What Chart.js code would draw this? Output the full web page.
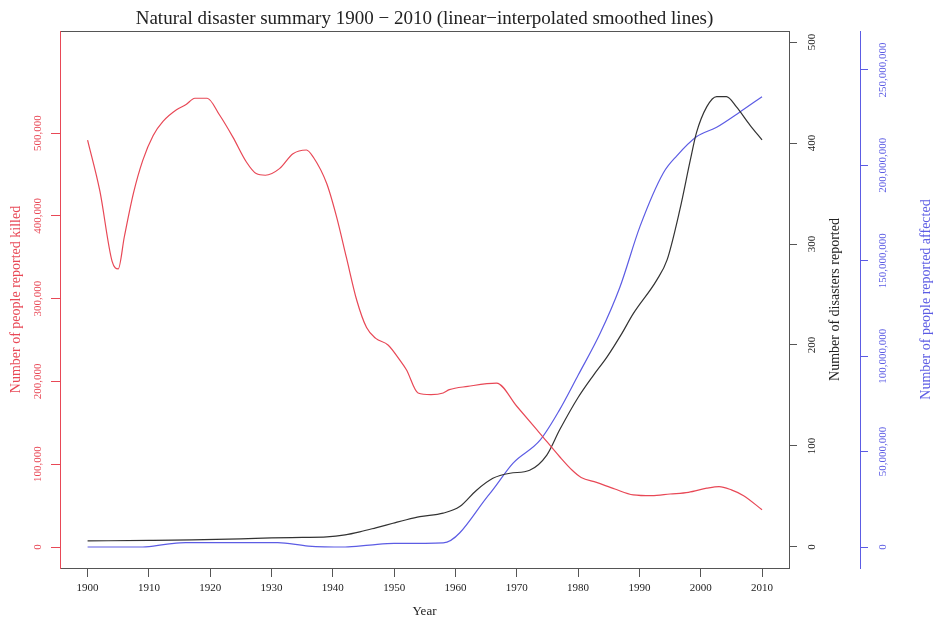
<!DOCTYPE html>
<html>
<head>
<meta charset="utf-8">
<script src="https://cdn.jsdelivr.net/npm/chart.js@4"></script>
<style>
  html, body { margin: 0; background: #fff; }
</style>
</head>
<body>
<canvas id="chart" width="936" height="621"></canvas>
<script>
// values
const killedYears = [1900, 1902, 1904, 1905, 1906, 1907.5, 1909, 1910.7, 1912.3, 1914.5, 1916, 1917.5, 1919.5,
  1921.5, 1923.7, 1925.9, 1927.5, 1929, 1931.3, 1933.5, 1935.7, 1936.8, 1939, 1940.6, 1942.2, 1943.9,
  1945.5, 1947, 1949, 1950.9, 1952, 1953.9, 1956, 1958, 1959, 1962, 1966.7, 1970, 1973.8, 1977,
  1979, 1980.5, 1983, 1986, 1989, 1992, 1995, 1998, 2001, 2003, 2005, 2007, 2010];
const killedValues = [491500, 430000, 345000, 336000, 375000, 428000, 467000, 497000, 514000, 528000, 534000, 542000, 542000,
  522000, 495000, 465000, 451000, 449000, 457000, 475000, 479500, 471000, 439000, 399000, 350000, 298000,
  265000, 252000, 244000, 226000, 214000, 186000, 184000, 186000, 190000, 194000, 198000, 170000, 137000, 109000,
  93000, 84000, 78000, 70000, 63000, 62000, 64000, 66000, 71000, 73000, 69000, 62000, 45000];

const disasterYears = [1900, 1910, 1917, 1925, 1930, 1935, 1939, 1942, 1944.4, 1947, 1949.8, 1952, 1954.2, 1958,
  1960.7, 1963.4, 1966.1, 1968.9, 1972.1, 1974.9, 1977, 1980, 1982.5, 1984.7, 1987, 1989, 1992.8, 1994.5,
  1996.6, 1998.3, 1999.3, 2001, 2002.6, 2004.2, 2005.8, 2008, 2010];
const disasterValues = [6, 6.5, 7, 8, 9, 9.5, 10, 12, 15, 19, 23.5, 27, 30, 33.5,
  40, 56, 68, 73, 76, 91, 116, 148, 170, 188, 210, 231, 264, 284,
  334, 383, 410, 436, 446, 446, 436, 418, 403];

const affectedYears = [1900, 1909, 1913, 1916, 1931, 1936, 1942, 1946, 1950, 1958, 1965.6, 1969.4, 1973.8, 1977,
  1980, 1983.6, 1986.8, 1990.1, 1993.9, 1996.1, 1999.3, 2002.6, 2006.4, 2010];
const affectedValues = [0, 0, 1500000, 2300000, 2300000, 500000, 0, 1000000, 1900000, 2200000, 28000000, 44000000, 56000000, 72000000,
  90000000, 112000000, 136000000, 168000000, 196000000, 205000000, 215000000, 220000000, 228000000, 236000000];

const yearTicks = [1900, 1910, 1920, 1930, 1940, 1950, 1960, 1970, 1980, 1990, 2000, 2010];
const killedTicks = [0, 100000, 200000, 300000, 400000, 500000];
const disasterTicks = [0, 100, 200, 300, 400, 500];
const affectedTicks = [0, 50000000, 100000000, 150000000, 200000000, 250000000];

const FONT = '"Liberation Serif", "Times New Roman", serif';
const RED = 'rgb(232,72,86)';
const BLUE = 'rgb(92,92,228)';
const DARK = '#333';

function points(xs, ys) {
  return xs.map((x, i) => ({ x: x, y: ys[i] }));
}

function setTicks(list) {
  return scale => { scale.ticks = list.map(v => ({ value: v })); };
}

function fmt(v) {
  return Number(v).toLocaleString('en-US');
}

// plot frame (R style box)
const frame = {
  id: 'frame',
  beforeDraw(chart) {
    const { ctx, chartArea: a } = chart;
    ctx.save();
    ctx.strokeStyle = '#555';
    ctx.lineWidth = 1;
    ctx.strokeRect(Math.round(a.left) + 0.5, Math.round(a.top) + 0.5,
      Math.round(a.right - a.left), Math.round(a.bottom - a.top));
    ctx.restore();
  }
};

// right hand axis titles read bottom to top, like the left one
const sideTitles = {
  id: 'sideTitles',
  afterDraw(chart) {
    const { ctx, chartArea: a } = chart;
    const mid = (a.top + a.bottom) / 2;
    [['yDisasters', 46], ['yAffected', 66]].forEach(([id, off]) => {
      const s = chart.scales[id];
      ctx.save();
      ctx.translate(s.left + off, mid);
      ctx.rotate(-Math.PI / 2);
      ctx.font = '14px ' + FONT;
      ctx.fillStyle = s.options.ticks.color;
      ctx.textAlign = 'center';
      ctx.textBaseline = 'middle';
      ctx.fillText(s.options.title.text, 0, 0);
      ctx.restore();
    });
  }
};

const ctx = document.getElementById('chart');

new Chart(ctx, {
  type: 'line',
  data: {
    datasets: [
      {
        label: 'Number of people reported killed',
        data: points(killedYears, killedValues),
        borderColor: RED,
        yAxisID: 'yKilled'
      },
      {
        label: 'Number of disasters reported',
        data: points(disasterYears, disasterValues),
        borderColor: DARK,
        yAxisID: 'yDisasters'
      },
      {
        label: 'Number of people reported affected',
        data: points(affectedYears, affectedValues),
        borderColor: BLUE,
        yAxisID: 'yAffected'
      }
    ]
  },
  options: {
    responsive: false,
    animation: false,
    datasets: {
      line: { borderWidth: 1.2, pointRadius: 0, cubicInterpolationMode: 'monotone', fill: false }
    },
    layout: { padding: 0, autoPadding: false },
    plugins: {
      legend: { display: false },
      tooltip: { enabled: false },
      title: {
        display: true,
        fullSize: false,
        text: 'Natural disaster summary 1900 \u2212 2010 (linear\u2212interpolated smoothed lines)',
        color: '#222',
        font: { family: FONT, size: 19, weight: 'normal' },
        padding: { top: 8, bottom: 0.2 }
      }
    },
    scales: {
      x: {
        type: 'linear',
        position: 'bottom',
        min: 1895.5,
        max: 2014.4,
        afterBuildTicks: setTicks(yearTicks),
        afterFit: s => { s.height = 53; },
        grid: { drawOnChartArea: false, tickLength: 9, color: '#555' },
        border: { color: '#555' },
        ticks: {
          autoSkip: false, maxRotation: 0, padding: 5, color: '#222',
          font: { family: FONT, size: 11 },
          callback: v => String(v)
        },
        title: {
          display: true, text: 'Year', color: '#222',
          font: { family: FONT, size: 13 },
          padding: { top: 0, bottom: 2 }
        }
      },
      yKilled: {
        type: 'linear',
        position: 'left',
        min: -25360,
        max: 623200,
        afterBuildTicks: setTicks(killedTicks),
        afterFit: s => { s.width = 60; },
        grid: { drawOnChartArea: false, tickLength: 9, color: RED },
        border: { color: RED },
        ticks: {
          autoSkip: false, minRotation: 90, maxRotation: 90, crossAlign: 'center', padding: -5,
          color: RED, font: { family: FONT, size: 11 },
          callback: fmt
        },
        title: {
          display: true, text: 'Number of people reported killed', color: RED,
          font: { family: FONT, size: 14 },
          padding: { top: 8, bottom: 0 }
        }
      },
      yDisasters: {
        type: 'linear',
        position: 'right',
        min: -20.8,
        max: 510.9,
        afterBuildTicks: setTicks(disasterTicks),
        afterFit: s => { s.width = 71; },
        grid: { drawOnChartArea: false, tickLength: 8, color: '#555' },
        border: { color: '#555' },
        ticks: {
          autoSkip: false, minRotation: 90, maxRotation: 90, crossAlign: 'center', padding: 6.75,
          color: '#222', font: { family: FONT, size: 11 },
          callback: fmt
        },
        title: { display: false, text: 'Number of disasters reported' }
      },
      yAffected: {
        type: 'linear',
        position: 'right',
        min: -11000000,
        max: 270400000,
        afterBuildTicks: setTicks(affectedTicks),
        afterFit: s => { s.width = 76; },
        grid: { drawOnChartArea: false, tickLength: 8, color: BLUE },
        border: { color: BLUE },
        ticks: {
          autoSkip: false, minRotation: 90, maxRotation: 90, crossAlign: 'center', padding: -12.5,
          color: BLUE, font: { family: FONT, size: 11 },
          callback: fmt
        },
        title: { display: false, text: 'Number of people reported affected' }
      }
    }
  },
  plugins: [frame, sideTitles]
});
</script>
</body>
</html>
